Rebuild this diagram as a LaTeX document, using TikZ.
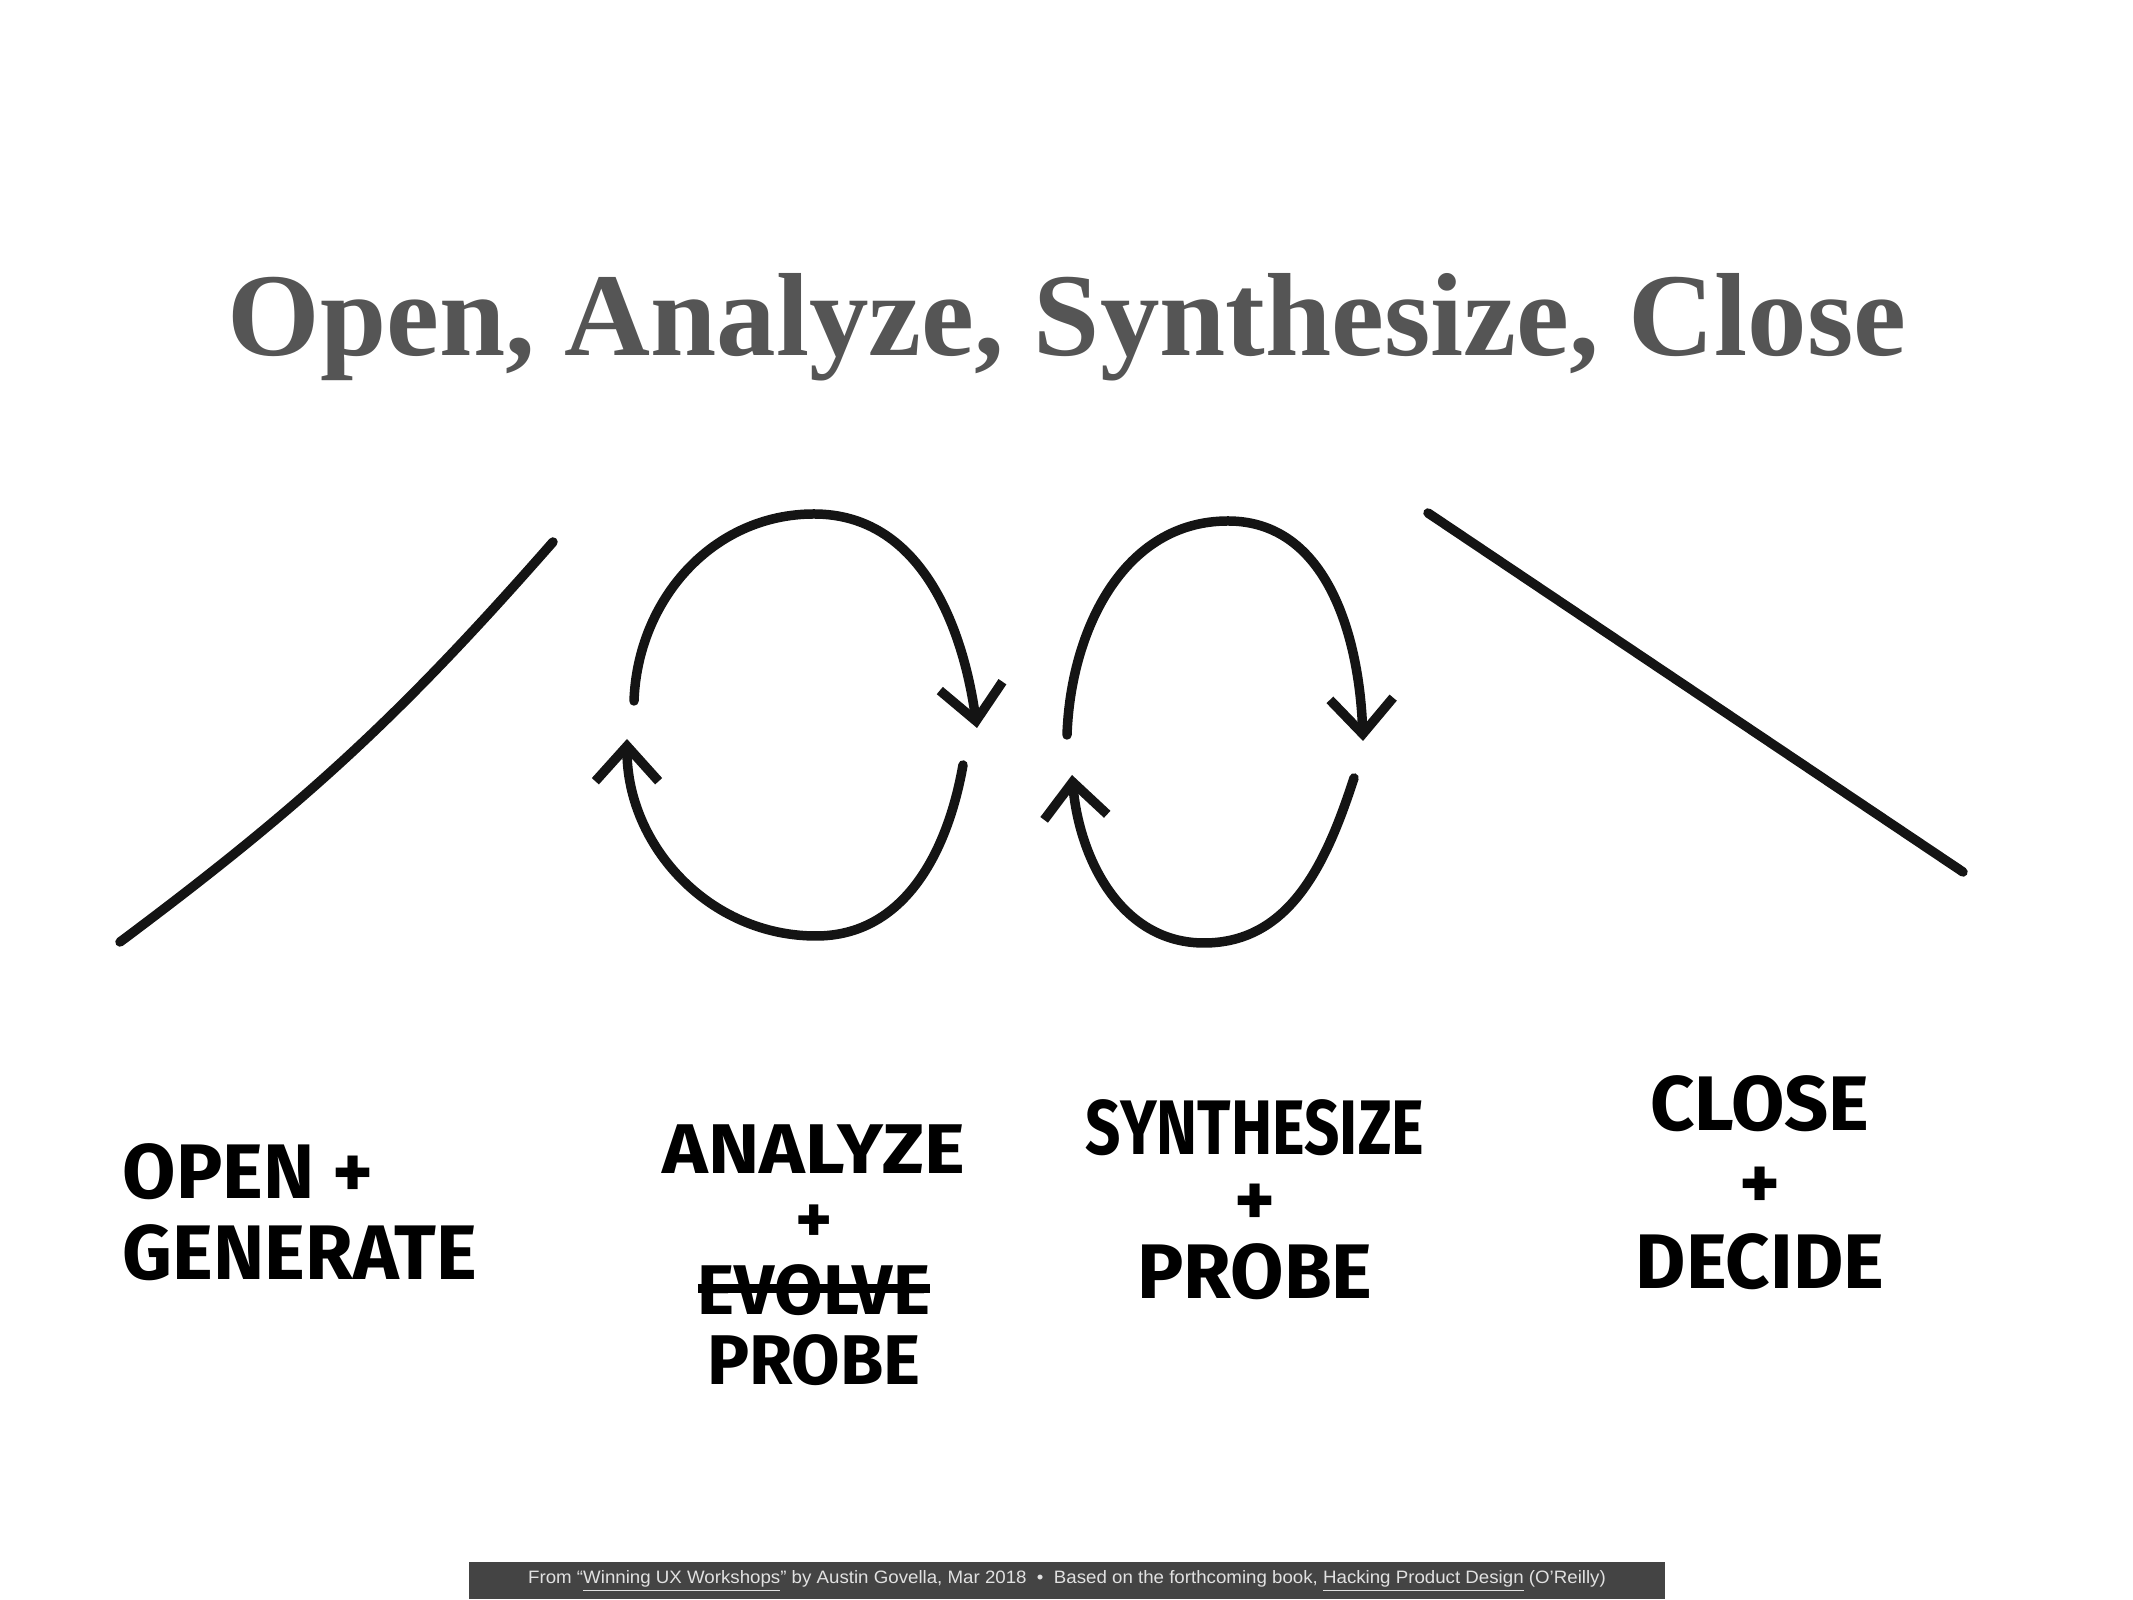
\documentclass[tikz,border=0pt]{standalone}
\usepackage{fontspec}
\usepackage{graphicx}
\setmainfont{Liberation Serif}
\newfontfamily\handfont{Fira Sans}
\newfontfamily\footfont{Liberation Sans}
\usetikzlibrary{arrows.meta}
\definecolor{titlegray}{RGB}{85,85,85}
\definecolor{footgray}{RGB}{68,68,68}
\definecolor{foottext}{RGB}{225,225,225}
\newlength\strikelen
\newcommand{\strikeword}[1]{\settowidth{\strikelen}{#1}\makebox[0pt][l]{\rule[0.3em]{\strikelen}{2.5pt}}#1}

\begin{document}
\begin{tikzpicture}[
x=0.01cm, y=0.01cm,
stroke/.style={
line width=2.7pt,
line cap=round,
black!92
},
loop/.style={
stroke,
-{Straight Barb[length=10pt,width=18pt]}
},
hand/.style 2 args={
font=\handfont\bfseries\fontsize{#1}{#2}\selectfont,
align=center,
inner sep=0pt
}
]

\useasboundingbox (0,0) rectangle (2133,1600);

\node[anchor=base, text=titlegray, inner sep=0pt] (T) at (1067,1244)
{\resizebox{16.78cm}{0.82cm}{\bfseries Open, Analyze, Synthesize, Close}};

\coordinate (o1) at (120,658);
\coordinate (o2) at (553,1058);
\draw[stroke] (o1) to[bend right=6] (o2);

\coordinate (a1) at (634,899);
\coordinate (atop) at (814,1086);
\coordinate (a2) at (977,872);
\draw[loop] (a1) to[out=88,in=180] (atop) to[out=0,in=98] (a2);

\coordinate (a3) at (963,835);
\coordinate (abot) at (816,664);
\coordinate (a4) at (627,861);
\draw[loop] (a3) to[out=-100,in=0] (abot) to[out=180,in=-90] (a4);

\coordinate (s1) at (1067,865);
\coordinate (stop) at (1228,1079);
\coordinate (s2) at (1363,859);
\draw[loop] (s1) to[out=88,in=180] (stop) to[out=0,in=92] (s2);

\coordinate (s3) at (1354,822);
\coordinate (sbot) at (1204,657);
\coordinate (s4) at (1072,825);
\draw[loop] (s3) to[out=-108,in=0] (sbot) to[out=180,in=-85] (s4);

\coordinate (c1) at (1428,1087);
\coordinate (c2) at (1963,728);
\draw[stroke] (c1) -- (c2);

\node[hand={22}{23pt}, align=left, anchor=north west] (open) at (122,457)
{OPEN +\\GENERATE};

\node[hand={20}{20pt}, anchor=north] (analyze) at (814,476)
{\scalebox{1.1}[1]{ANALYZE}\\+\\\strikeword{EVOLVE}\\PROBE};

\node[hand={22}{20.5pt}, anchor=north] (synth) at (1255,501)
{\scalebox{0.8}[1]{SYNTHESIZE}\\+\\PROBE};

\node[hand={22}{22.5pt}, anchor=north] (close) at (1760,525)
{CLOSE\\+\\DECIDE};

\node[fill=footgray, text=foottext, anchor=south, inner sep=0pt,
minimum width=11.96cm, minimum height=0.37cm] (foot) at (1067,0)
{\resizebox{10.77cm}{0.13cm}{\footfont From “\underline{Winning UX Workshops}” by Austin Govella, Mar 2018 \ \textbullet\ \ Based on the forthcoming book, \underline{Hacking Product Design} (O’Reilly)}};

\end{tikzpicture}
\end{document}
